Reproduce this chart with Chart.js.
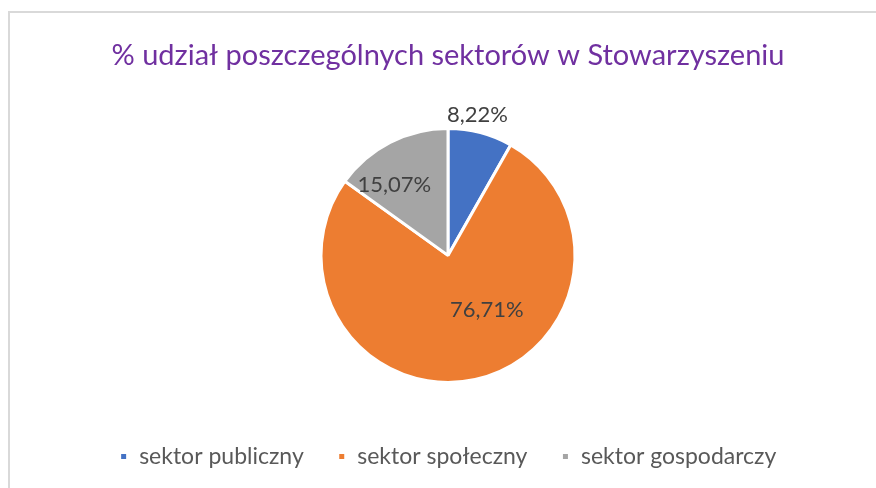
<!DOCTYPE html>
<html>
<head>
<meta charset="utf-8">
<script src="https://cdnjs.cloudflare.com/ajax/libs/Chart.js/4.4.1/chart.umd.min.js"></script>
<style>
  html, body { margin: 0; padding: 0; background: #fff; overflow: hidden; }
  #wrap { width: 876px; height: 488px; position: relative; }
</style>
</head>
<body>
<div id="wrap"><canvas id="chart" width="876" height="488"></canvas></div>
<script>
const categories = ['sektor publiczny', 'sektor społeczny', 'sektor gospodarczy'];
const shares = [8.22, 76.71, 15.07];
const sliceColors = ['#4472c4', '#ed7d31', '#a5a5a5'];
const chartTitle = '% udział poszczególnych sektorów w Stowarzyszeniu';

const FONT = 'Lato, "Open Sans", sans-serif';

// light frame around the chart, like the spreadsheet chart border
const framePlugin = {
  id: 'frame',
  beforeDraw(chart) {
    const ctx = chart.ctx;
    ctx.save();
    ctx.strokeStyle = '#d9d9d9';
    ctx.lineWidth = 2;
    ctx.beginPath();
    ctx.moveTo(9, chart.height);
    ctx.lineTo(9, 12);
    ctx.lineTo(chart.width, 12);
    ctx.stroke();
    ctx.restore();
  }
};

// percent labels; radial factor and angle nudge per slice
const sliceLabels = {
  id: 'sliceLabels',
  afterDatasetsDraw(chart, args, opts) {
    const ctx = chart.ctx;
    const meta = chart.getDatasetMeta(0);
    ctx.save();
    ctx.font = opts.font;
    ctx.fillStyle = opts.color;
    ctx.textAlign = 'center';
    ctx.textBaseline = 'middle';
    meta.data.forEach((arc, i) => {
      const p = opts.place[i] || { r: 0.6, da: 0 };
      const mid = (arc.startAngle + arc.endAngle) / 2 + p.da * Math.PI / 180;
      const x = arc.x + Math.cos(mid) * arc.outerRadius * p.r;
      const y = arc.y + Math.sin(mid) * arc.outerRadius * p.r;
      const txt = shares[i].toFixed(2).replace('.', ',') + '%';
      ctx.fillText(txt, x, y);
    });
    ctx.restore();
  }
};

new Chart(document.getElementById('chart'), {
  type: 'pie',
  data: {
    labels: categories,
    datasets: [{
      data: shares,
      backgroundColor: sliceColors,
      borderColor: '#ffffff',
      borderWidth: 3,
      radius: 127,
    }]
  },
  options: {
    responsive: false,
    animation: false,
    layout: { padding: { left: 20, right: 0, top: 0, bottom: 10 } },
    plugins: {
      title: {
        display: true,
        text: chartTitle,
        color: '#7030a0',
        font: { family: FONT, size: 29, weight: 'normal' },
        padding: { top: 38, bottom: 27 },
      },
      legend: {
        position: 'bottom',
        labels: {
          color: '#595959',
          font: { family: FONT, size: 23 },
          boxWidth: 8,
          boxHeight: 8,
          padding: 34,
        }
      },
      tooltip: { enabled: false },
      sliceLabels: {
        font: '22px ' + FONT,
        color: '#404040',
        place: [
          { r: 1.13, da: -3 },
          { r: 0.53, da: -23 },
          { r: 0.70, da: -10 },
        ]
      }
    }
  },
  plugins: [framePlugin, sliceLabels]
});
</script>
</body>
</html>
